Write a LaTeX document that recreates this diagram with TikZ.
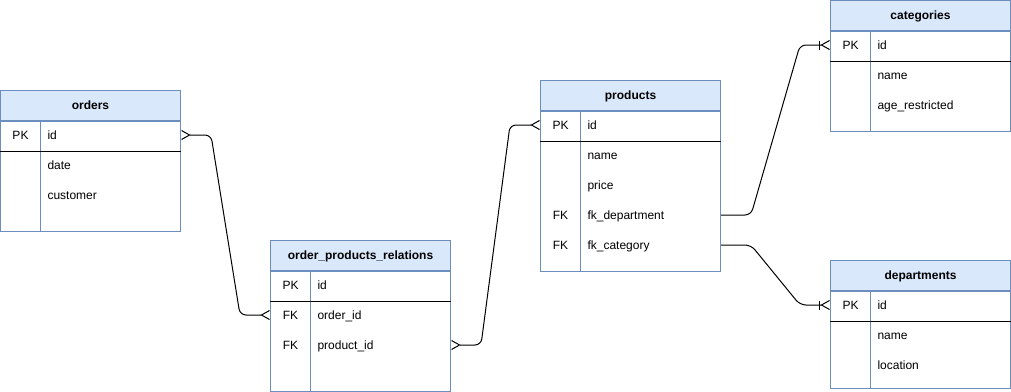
\documentclass[tikz,border=0pt]{standalone}
\usepackage{fontspec}
\setmainfont{Liberation Sans}
\usetikzlibrary{calc,positioning,arrows.meta}
\definecolor{tblline}{HTML}{6C8EBF}
\definecolor{tblfill}{HTML}{DAE8FC}

\begin{document}
\begin{tikzpicture}[x=1pt,y=-1pt,line width=1pt,font=\fontsize{12}{14}\selectfont,
  hdr/.style={draw=tblline,fill=tblfill,minimum width=180pt,minimum height=30pt,inner sep=0pt,
    text height=8.6pt,text depth=0pt,font=\fontsize{12}{14}\selectfont\bfseries},
  body/.style={draw=tblline,minimum width=180pt,inner sep=0pt,below=0pt of #1},
  key/.style={inner sep=0pt,text height=8.6pt,text depth=0pt},
  fld/.style={anchor=west,inner sep=0pt,text height=8.6pt,text depth=0pt},
  many/.tip={Straight Barb[reversed,length=8pt,width=9pt,line width=1pt]},
  onemany/.tip={Bar[width=9pt,line width=1pt] Straight Barb[reversed,length=8pt,width=9pt,line width=1pt]},
  rel/.style={rounded corners=6pt}]
  \useasboundingbox (0,0) rectangle (1011,391);

  % orders
  \node[hdr] (orders) at (90.5,105.5) {orders};
  \node[body=orders,minimum height=110pt] (orders-b) {};
  \draw[tblline] ([xshift=40pt]orders-b.north west) -- ([xshift=40pt]orders-b.south west);
  \draw ([yshift=-30pt]orders-b.north west) -- ([yshift=-30pt]orders-b.north east);
  \node[key] (orders-pk) at (20.5,135) {PK};
  \node[fld] (orders-id) at (47,135) {id};
  \node[fld] (orders-date) at (47,165) {date};
  \node[fld] (orders-cust) at (47,195) {customer};

  % order_products_relations
  \node[hdr] (opr) at (360.5,255.5) {order\_products\_relations};
  \node[body=opr,minimum height=120pt] (opr-b) {};
  \draw[tblline] ([xshift=40pt]opr-b.north west) -- ([xshift=40pt]opr-b.south west);
  \draw ([yshift=-30pt]opr-b.north west) -- ([yshift=-30pt]opr-b.north east);
  \node[key] (opr-pk) at (290.5,285) {PK};
  \node[fld] (opr-id) at (317,285) {id};
  \node[key] (opr-fk1) at (290.5,315) {FK};
  \node[fld] (opr-oid) at (317,315) {order\_id};
  \node[key] (opr-fk2) at (290.5,345) {FK};
  \node[fld] (opr-pid) at (317,345) {product\_id};

  % products
  \node[hdr] (prod) at (630.5,95.5) {products};
  \node[body=prod,minimum height=160pt] (prod-b) {};
  \draw[tblline] ([xshift=40pt]prod-b.north west) -- ([xshift=40pt]prod-b.south west);
  \draw ([yshift=-30pt]prod-b.north west) -- ([yshift=-30pt]prod-b.north east);
  \node[key] (prod-pk) at (560.5,125) {PK};
  \node[fld] (prod-id) at (587,125) {id};
  \node[fld] (prod-name) at (587,155) {name};
  \node[fld] (prod-price) at (587,185) {price};
  \node[key] (prod-fk1) at (560.5,215) {FK};
  \node[fld] (prod-dep) at (587,215) {fk\_department};
  \node[key] (prod-fk2) at (560.5,245) {FK};
  \node[fld] (prod-cat) at (587,245) {fk\_category};

  % categories
  \node[hdr] (cat) at (920.5,15.5) {categories};
  \node[body=cat,minimum height=100pt] (cat-b) {};
  \draw[tblline] ([xshift=40pt]cat-b.north west) -- ([xshift=40pt]cat-b.south west);
  \draw ([yshift=-30pt]cat-b.north west) -- ([yshift=-30pt]cat-b.north east);
  \node[key] (cat-pk) at (850.5,45) {PK};
  \node[fld] (cat-id) at (877,45) {id};
  \node[fld] (cat-name) at (877,75) {name};
  \node[fld] (cat-age) at (877,105) {age\_restricted};

  % departments
  \node[hdr] (dep) at (920.5,275.5) {departments};
  \node[body=dep,minimum height=96.5pt] (dep-b) {};
  \draw[tblline] ([xshift=40pt]dep-b.north west) -- ([xshift=40pt]dep-b.south west);
  \draw ([yshift=-30pt]dep-b.north west) -- ([yshift=-30pt]dep-b.north east);
  \node[key] (dep-pk) at (850.5,305) {PK};
  \node[fld] (dep-id) at (877,305) {id};
  \node[fld] (dep-name) at (877,335) {name};
  \node[fld] (dep-loc) at (877,365) {location};

  % relations
  \draw[many-many,rel] (orders-b.east |- orders-id) -- ++(30,0)
    -- ($(opr-b.west |- opr-oid)+(-30,0)$) -- (opr-b.west |- opr-oid);
  \draw[many-many,rel] (opr-b.east |- opr-pid) -- ++(30,0)
    -- ($(prod-b.west |- prod-id)+(-30,0)$) -- (prod-b.west |- prod-id);
  \draw[-onemany,rel] (prod-b.east |- prod-dep) -- ++(30,0)
    -- ($(cat-b.west |- cat-id)+(-30,0)$) -- (cat-b.west |- cat-id);
  \draw[-onemany,rel] (prod-b.east |- prod-cat) -- ++(30,0)
    -- ($(dep-b.west |- dep-id)+(-30,0)$) -- (dep-b.west |- dep-id);
\end{tikzpicture}
\end{document}
